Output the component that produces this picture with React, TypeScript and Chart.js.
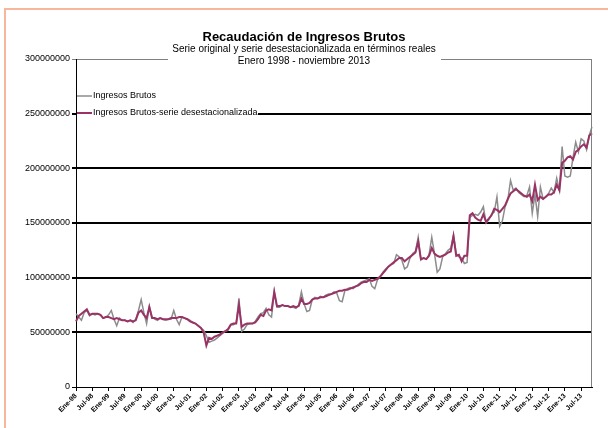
import React, { useEffect, useRef } from 'react';
import { Chart, registerables } from 'chart.js';

Chart.register(...registerables);

const TITLE = 'Recaudación de Ingresos Brutos';
const SUBTITLE_1 = 'Serie original y serie desestacionalizada en términos reales';
const SUBTITLE_2 = 'Enero 1998 - noviembre 2013';
const SERIES_NAMES = ['Ingresos Brutos', 'Ingresos Brutos-serie desestacionalizada'];
const MONTH_ABBR = ['Ene', 'Feb', 'Mar', 'Abr', 'May', 'Jun', 'Jul', 'Ago', 'Sep', 'Oct', 'Nov', 'Dic'];
const YEARS = [1998, 1999, 2000, 2001, 2002, 2003, 2004, 2005, 2006, 2007, 2008, 2009, 2010, 2011, 2012, 2013];
const MONTHS_IN_LAST_YEAR = 11;
const Y_MAX = 300000000;
const Y_STEP = 50000000;

// Original series, millions of pesos (monthly, Jan-1998 .. Nov-2013)
const ORIGINAL_M = [
  67, 64, 61, 68, 70, 65, 67, 66, 67, 66, 63, 64,
  66, 70, 62, 56, 63, 61, 61, 60, 61, 59, 62, 70,
  80, 68, 58, 74, 64, 62, 61, 63, 62, 61, 62, 62,
  70, 62, 57, 64, 63, 62, 61, 59, 58, 56, 54, 52,
  47, 41, 42, 43, 45, 47, 49, 51, 52, 57, 57, 59,
  81, 51, 53, 57, 58, 58, 60, 64, 67, 68, 72, 66,
  64, 87, 73, 73, 75, 74, 74, 73, 73, 72, 75, 87,
  76, 69, 70, 80, 82, 81, 83, 82, 84, 85, 85, 87,
  86, 79, 78, 88, 90, 91, 90, 92, 94, 96, 97, 98,
  99, 92, 90, 98, 101, 105, 108, 110, 112, 113, 121, 119,
  116, 108, 110, 118, 122, 124, 137, 116, 118, 117, 121, 137,
  122, 105, 108, 119, 122, 125, 127, 139, 122, 119, 118, 113,
  114, 155, 157, 158, 157, 160, 165, 150, 153, 158, 160, 174,
  147, 152, 165, 171, 189, 180, 182, 178, 176, 174, 175, 183,
  159, 176, 156, 183, 172, 174, 177, 182, 178, 191, 180, 220,
  193, 192, 193, 210, 224, 215, 227, 225, 217, 230, 238,
];

// Seasonally adjusted series, millions of pesos
const ADJUSTED_M = [
  60, 65, 67, 69, 71, 66, 67, 67, 67, 66, 63, 64,
  64, 63, 62, 63, 62, 61, 61, 60, 61, 60, 61, 68,
  70, 66, 63, 73, 63, 63, 62, 63, 62, 62, 62, 63,
  63, 63, 64, 64, 63, 62, 60, 59, 58, 56, 54, 50,
  38, 45, 44, 46, 47, 48, 50, 51, 53, 57, 58, 58,
  75, 55, 57, 58, 58, 58, 59, 62, 66, 65, 70, 71,
  70, 87, 74, 74, 75, 74, 74, 73, 74, 73, 74, 81,
  76, 76, 77, 80, 81, 81, 82, 82, 83, 84, 85, 86,
  87, 88, 88, 89, 89, 90, 91, 92, 93, 95, 96, 96,
  98, 97, 98, 99, 101, 104, 107, 110, 112, 114, 116, 118,
  118, 115, 117, 119, 121, 123, 133, 117, 118, 117, 120, 127,
  122, 120, 119, 120, 121, 123, 124, 138, 120, 121, 115, 120,
  120, 157, 159, 155, 153, 152, 158, 151, 154, 157, 163, 162,
  160, 163, 166, 172, 177, 179, 181, 179, 177, 175, 174, 176,
  170, 185, 171, 174, 172, 174, 176, 176, 178, 185, 180, 205,
  207, 210, 211, 208, 215, 217, 220, 222, 219, 230, 232,
];

const COLORS = ['#8c8c8c', '#993366'];
const FONT = 'Arial, "Liberation Sans", sans-serif';

const categories: string[] = [];
YEARS.forEach((y, yi) => {
  const n = yi === YEARS.length - 1 ? MONTHS_IN_LAST_YEAR : 12;
  for (let k = 0; k < n; k++) categories.push(`${MONTH_ABBR[k]}-${String(y).slice(2)}`);
});

const decorPlugin = {
  id: 'decor',
  beforeDraw(chart: any) {
    const ctx = chart.ctx;
    ctx.save();
    ctx.fillStyle = '#ffffff';
    ctx.fillRect(0, 0, chart.width, chart.height);
    ctx.fillStyle = '#F8B79B';
    ctx.fillRect(4, 8, chart.width - 4, 2);
    ctx.fillRect(4, 8, 2, chart.height - 8);
    ctx.restore();
  },
  afterDraw(chart: any) {
    const ctx = chart.ctx;
    const a = chart.chartArea;
    ctx.save();
    // right border of plot
    ctx.strokeStyle = '#808080';
    ctx.lineWidth = 1;
    ctx.beginPath();
    ctx.moveTo(a.right - 0.5, a.top);
    ctx.lineTo(a.right - 0.5, a.bottom);
    ctx.stroke();
    // title block
    ctx.fillStyle = '#ffffff';
    ctx.fillRect(168, 26, 273, 42);
    ctx.fillStyle = '#000000';
    ctx.textAlign = 'center';
    ctx.textBaseline = 'middle';
    ctx.font = `bold 13px ${FONT}`;
    ctx.fillText(TITLE, 304, 37);
    ctx.font = `10px ${FONT}`;
    ctx.fillText(SUBTITLE_1, 304, 49.5);
    ctx.fillText(SUBTITLE_2, 304, 61.5);
    // legend
    ctx.fillStyle = '#ffffff';
    ctx.fillRect(a.left + 1, 86, 181, 36);
    ctx.font = `9px ${FONT}`;
    ctx.textAlign = 'left';
    const ys = [96, 113];
    SERIES_NAMES.forEach((name, i) => {
      ctx.strokeStyle = COLORS[i];
      ctx.lineWidth = i === 0 ? 1.5 : 2;
      ctx.beginPath();
      ctx.moveTo(a.left + 1, ys[i]);
      ctx.lineTo(a.left + 16, ys[i]);
      ctx.stroke();
      ctx.fillStyle = '#000000';
      ctx.fillText(name, a.left + 17, ys[i]);
    });
    ctx.restore();
  },
};

export default function App() {
  const ref = useRef<HTMLCanvasElement | null>(null);
  useEffect(() => {
    if (!ref.current) return;
    const chart = new Chart(ref.current, {
      type: 'line',
      data: {
        labels: categories,
        datasets: [
          {
            label: SERIES_NAMES[0],
            data: ORIGINAL_M.map((v) => v * 1e6),
            borderColor: COLORS[0],
            backgroundColor: COLORS[0],
            borderWidth: 1.5,
            pointRadius: 0,
            tension: 0,
            order: 2,
          },
          {
            label: SERIES_NAMES[1],
            data: ADJUSTED_M.map((v) => v * 1e6),
            borderColor: COLORS[1],
            backgroundColor: COLORS[1],
            borderWidth: 2,
            pointRadius: 0,
            tension: 0,
            order: 1,
          },
        ],
      },
      options: {
        responsive: false,
        animation: false,
        devicePixelRatio: 1,
        layout: { padding: { left: 0, top: 59, right: 16, bottom: 0 } },
        plugins: { legend: { display: false }, tooltip: { enabled: false }, title: { display: false } },
        scales: {
          x: {
            type: 'category',
            offset: false,
            afterFit: (s: any) => { s.height = 41; },
            border: { display: true, color: '#000000', width: 1 },
            grid: {
              display: true,
              drawOnChartArea: false,
              drawTicks: true,
              tickLength: 4,
              color: (c: any) => (c.index % 6 === 0 ? '#000000' : 'rgba(0,0,0,0)'),
            },
            ticks: {
              autoSkip: false,
              maxRotation: 45,
              minRotation: 45,
              padding: 1,
              color: '#000000',
              font: { family: FONT, size: 7, weight: 'bold' },
              callback: (_v: any, idx: number) => (idx % 6 === 0 ? categories[idx] : ''),
            },
          },
          y: {
            min: 0,
            max: Y_MAX,
            afterFit: (s: any) => { s.width = 76; },
            border: { display: true, color: '#000000', width: 1 },
            grid: {
              drawTicks: true,
              tickLength: 4,
              color: (c: any) => (c.tick && c.tick.value === Y_MAX ? '#808080' : '#000000'),
              lineWidth: (c: any) => (c.tick && (c.tick.value === Y_MAX || c.tick.value === 0) ? 1 : 2),
            },
            ticks: {
              stepSize: Y_STEP,
              padding: 2,
              color: '#000000',
              font: { family: FONT, size: 9 },
              callback: (v: any) => String(v),
            },
          },
        },
      },
      plugins: [decorPlugin],
    });
    return () => chart.destroy();
  }, []);
  return (
    <div style={{ position: 'fixed', left: 0, top: 0, width: 608, height: 428, background: '#fff' }}>
      <canvas ref={ref} width={608} height={428} style={{ display: 'block', width: 608, height: 428 }} />
    </div>
  );
}
